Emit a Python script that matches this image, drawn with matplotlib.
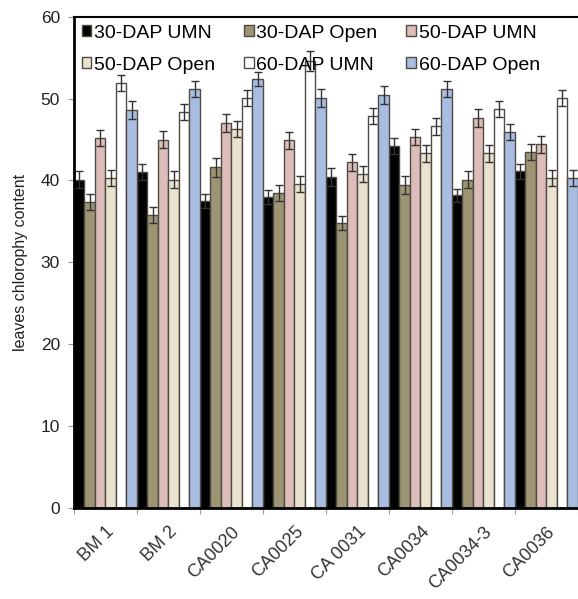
import matplotlib
matplotlib.use("Agg")
import matplotlib.pyplot as plt
import numpy as np

plt.rcParams['font.family'] = ['Liberation Sans', 'DejaVu Sans']

categories = ["BM 1", "BM 2", "CA0020", "CA0025", "CA 0031", "CA0034", "CA0034-3", "CA0036"]
series_names = ["30-DAP UMN", "30-DAP Open", "50-DAP UMN", "50-DAP Open", "60-DAP UMN", "60-DAP Open"]

dap30_umn  = [40.1, 41.0, 37.5, 38.0, 40.4, 44.2, 38.2, 41.1]
dap30_open = [37.4, 35.8, 41.6, 38.5, 34.8, 39.5, 40.1, 43.5]
dap50_umn  = [45.2, 45.0, 47.0, 44.9, 42.2, 45.3, 47.6, 44.4]
dap50_open = [40.3, 40.1, 46.3, 39.6, 40.8, 43.3, 43.3, 40.3]
dap60_umn  = [51.9, 48.4, 50.1, 54.6, 47.9, 46.6, 48.7, 50.1]
dap60_open = [48.6, 51.2, 52.4, 50.1, 50.4, 51.2, 45.9, 40.3]

err30_umn  = [1.0, 1.0, 0.9, 0.9, 1.1, 1.0, 0.8, 0.9]
err30_open = [1.0, 1.0, 1.2, 1.0, 0.9, 1.1, 1.0, 1.0]
err50_umn  = [1.0, 1.0, 1.1, 1.0, 1.0, 1.0, 1.1, 1.0]
err50_open = [1.0, 1.0, 1.0, 1.0, 1.0, 1.0, 1.0, 1.0]
err60_umn  = [1.0, 1.0, 1.0, 1.2, 1.0, 1.0, 1.0, 1.0]
err60_open = [1.1, 1.0, 0.9, 1.1, 1.1, 1.0, 1.0, 1.0]

values = [dap30_umn, dap30_open, dap50_umn, dap50_open, dap60_umn, dap60_open]
errors = [err30_umn, err30_open, err50_umn, err50_open, err60_umn, err60_open]
colors = ["#000000", "#9d9473", "#dcbdb9", "#e8e2cf", "#ffffff", "#a9bde2"]

fig = plt.figure(figsize=(5.78, 5.99), dpi=100)
ax = fig.add_axes([0.128, 0.152, 0.872, 0.82])

n = len(series_names)
w = 1.0 / n
x = np.arange(len(categories))
handles = []
for i in range(n):
    pos = x + (i + 0.5) * w
    b = ax.bar(pos, values[i], width=w, color=colors[i], edgecolor="#4f4a42",
               linewidth=1.0, label=series_names[i], zorder=2)
    ax.errorbar(pos, values[i], yerr=errors[i], fmt='none', ecolor="#333333",
                elinewidth=1.0, capsize=3, capthick=1.0, zorder=3)
    handles.append(b)

ax.set_xlim(0, len(categories))
ax.set_ylim(0, 60)
ax.set_yticks([0, 10, 20, 30, 40, 50, 60])
ax.tick_params(axis='y', labelsize=12.5, length=4, color="#999999", pad=6,
               labelcolor="#222222")
ax.set_xticks(np.arange(len(categories) + 1))
ax.set_xticklabels([])
ax.set_xticks(x + 0.5, minor=True)
ax.set_xticklabels(categories, minor=True, rotation=45, ha='right',
                   rotation_mode='anchor', fontsize=13, color="#333333")
ax.tick_params(axis='x', which='minor', length=0, pad=11)
ax.tick_params(axis='x', which='major', length=4, color="#999999")

for s in ['left', 'bottom']:
    ax.spines[s].set_linewidth(2.0)
ax.spines['top'].set_linewidth(1.5)
ax.spines['right'].set_visible(False)

ax.set_ylabel("leaves chlorophy content", fontsize=11.5, color="#222222", labelpad=9)

order = [0, 3, 1, 4, 2, 5]
leg = ax.legend([handles[k] for k in order], [series_names[k] for k in order],
                ncol=3, loc='upper left', bbox_to_anchor=(0.0, 1.0), frameon=False,
                fontsize=14, handlelength=0.5, handleheight=0.5, handletextpad=0.12,
                columnspacing=1.5, labelspacing=0.78, borderaxespad=0.2, borderpad=0.2)

fig.savefig("out.png", dpi=100)
